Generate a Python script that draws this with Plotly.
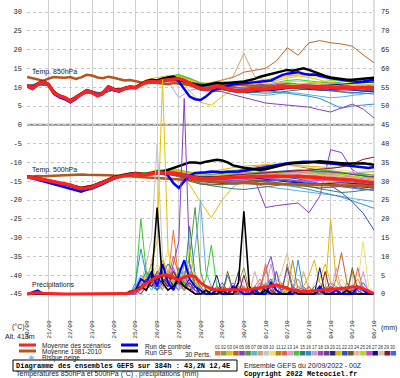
import plotly.graph_objects as go
import pandas as pd

START = pd.Timestamp("2022-09-20 00:00")
T6 = pd.date_range(START, periods=65, freq="6h")
T12 = pd.date_range(START, periods=33, freq="12h")
DAYS = pd.date_range(START, periods=17, freq="D")

# ---------------- 850 hPa (6h) ----------------
MEAN850 = [10.4,9.7,10.8,11.4, 10.6,8.5,7.6,7.2, 6.3,7.2,8.3,9.0, 8.6,7.8,8.4,10.0,
           9.4,9.0,9.6,10.0, 9.8,10.6,11.3,11.5, 11.4,11.8,12.0,12.1, 12.3,11.8,11.0,10.3,
           9.7,9.4,9.8,10.2, 10.0,9.6,9.2,8.9, 9.1,9.3,9.4,9.6, 9.5,9.7,9.9,10.0,
           10.1,10.0,10.2,10.3, 10.1,9.9,10.1,10.2, 10.0,9.9,10.1,10.0, 9.8,9.7,9.9,9.8, 9.6]
CLIM850 = [12.7,12.4,12.0,11.7, 12.3,12.7,12.6,12.5, 12.7,12.2,12.6,13.3, 13.1,12.6,12.4,12.8,
           12.5,12.1,11.8,11.9, 11.6,11.2,11.0,11.3, 11.1,11.0,10.8,11.1, 11.0,10.8,10.6,10.9,
           10.8,10.6,10.5,10.8, 10.7,10.5,10.4,10.7, 10.6,10.4,10.3,10.6, 10.5,10.3,10.2,10.5,
           10.4,10.2,10.1,10.4, 10.3,10.1,10.0,10.3, 10.2,10.0,9.9,10.2, 10.1,9.9,9.8,10.1, 10.0]
CTRL850 = [10.2,9.5,10.6,11.4, 10.4,8.2,7.3,6.8, 6.0,6.9,8.1,9.0, 8.4,7.6,8.2,9.8,
           9.2,8.8,9.5,10.0, 9.9,10.8,11.5,11.8, 11.6,12.1,12.3,12.4, 11.5,9.5,7.5,6.8,
           6.6,7.5,8.8,9.5, 10.0,10.4,10.8,11.0, 11.0,11.2,11.3,11.5, 11.5,11.8,12.5,13.2,
           13.6,13.8,14.0,13.6, 13.3,13.4,13.0,12.6, 12.4,12.2,12.0,11.8, 11.6,11.4,11.5,11.8, 12.0]
GFS850 = [10.5,9.9,11.0,11.6, 10.8,8.7,7.8,7.3, 6.5,7.4,8.5,9.2, 8.8,8.0,8.6,10.2,
          9.6,9.2,9.8,10.2, 10.0,10.9,11.6,12.0, 11.8,12.3,12.6,12.8, 12.0,11.6,11.0,10.6,
          10.4,10.6,11.0,11.2, 11.0,11.2,11.3,11.4, 11.5,11.8,12.2,12.8, 13.2,13.6,14.0,14.4,
          14.6,14.4,14.8,15.0, 14.6,14.0,13.4,13.0, 12.6,12.4,12.2,12.0, 12.0,12.1,12.3,12.4, 12.5]

# ---------------- 500 hPa (6h) ----------------
MEAN500 = [-13.8,-14.0,-14.3,-14.6, -14.9,-15.2,-15.5,-15.8, -16.0,-16.6,-17.0,-16.8, -16.5,-15.9,-15.4,-14.8,
           -14.1,-13.8,-13.4,-13.1, -13.0,-13.2,-13.3,-13.0, -12.7,-12.8,-12.7,-12.8, -13.0,-13.4,-13.8,-14.1,
           -14.3,-14.4,-14.3,-14.2, -14.1,-14.0,-14.0,-13.9, -13.9,-13.8,-13.8,-13.7, -13.8,-13.7,-13.6,-13.7,
           -13.8,-13.7,-13.7,-13.8, -13.8,-13.9,-13.9,-14.0, -14.1,-14.2,-14.4,-14.5, -14.7,-14.9,-15.1,-15.3, -15.4]
CLIM500 = [-13.8,-13.7,-13.6,-13.7, -13.6,-13.5,-13.4,-13.5, -13.4,-13.3,-13.2,-13.3, -13.3,-13.2,-13.3,-13.4,
           -13.5,-13.5,-13.6,-13.7, -13.8,-13.9,-14.0,-14.1, -14.2,-14.3,-14.4,-14.5, -14.6,-14.7,-14.8,-14.9,
           -15.0,-15.1,-15.2,-15.2, -15.3,-15.4,-15.4,-15.5, -15.5,-15.6,-15.6,-15.7, -15.7,-15.7,-15.8,-15.8,
           -15.8,-15.9,-15.9,-15.9, -15.9,-16.0,-16.0,-16.0, -16.0,-16.1,-16.1,-16.1, -16.1,-16.2,-16.2,-16.2, -16.2]
CTRL500 = [-13.9,-14.2,-14.6,-15.0, -15.4,-15.8,-16.2,-16.6, -16.9,-17.4,-17.8,-17.2, -16.6,-16.0,-15.5,-14.9,
           -14.2,-13.8,-13.4,-13.0, -13.0,-13.1,-13.3,-13.0, -12.8,-12.9,-13.5,-15.5, -16.8,-15.0,-13.5,-12.8,
           -12.8,-12.6,-12.4,-12.5, -12.6,-12.5,-12.5,-12.4, -12.2,-12.0,-11.8,-11.5, -11.3,-11.0,-10.8,-10.5,
           -10.2,-10.0,-9.8,-9.8, -9.8,-9.9,-10.0,-10.2, -10.2,-10.4,-10.6,-10.8, -11.0,-11.2,-11.3,-11.5, -11.2]
GFS500 = [-13.7,-13.9,-14.2,-14.5, -14.8,-15.1,-15.4,-15.7, -15.9,-16.4,-16.8,-16.6, -16.3,-15.7,-15.2,-14.6,
          -13.9,-13.6,-13.2,-12.9, -12.8,-13.0,-13.1,-12.8, -12.5,-12.5,-12.0,-11.5, -11.0,-10.3,-10.0,-10.0,
          -10.2,-9.8,-9.5,-9.3, -9.5,-10.0,-10.8,-11.2, -11.4,-11.6,-11.8,-12.0, -11.8,-11.4,-11.0,-10.6,
          -10.4,-10.2,-10.2,-10.0, -10.0,-9.8,-9.7,-9.8, -10.0,-10.0,-10.2,-10.3, -10.4,-10.3,-10.2,-10.4, -10.6]

# ---------------- precipitation (6h, mm) ----------------
PMEAN = [0,0.1,0.3,0.2, 0.1,0,0,0, 0,0,0,0, 0,0,0,0, 0,0,0.1,0.3, 0.8,1.6,2.8,3.7, 4.5,5.0,5.0,4.3,
         3.7,4.5,5.0,4.6, 3.0,2.0,1.4,1.1, 1.1,1.2,1.1,1.0, 1.0,1.2,1.4,1.6, 1.8,2.2,2.4,2.0,
         1.4,1.0,0.8,0.6, 0.7,0.8,0.9,1.0, 1.2,1.3,1.4,1.6, 1.9,1.8,1.4,0.7, 0.1]
PCTRL = [0,0.5,1,0, 0,0,0,0, 0,0,0,0, 0,0,0,0, 0,0,0,0.5, 1,4,3,6, 2,8,3,1, 5,9,4,2,
         1,0,0,1, 0,0,2,1, 0,0,1,0, 0,3,1,0, 0,0,1,0, 0,0,2,0, 0,1,0,0, 0,2,1,0, 0]
PGFS = [0,0,0,0, 0,0,0,0, 0,0,0,0, 0,0,0,0, 0,0,0,0.5, 1,2,1,4, 23,3,1,2, 4,2,1,0,
        0,1,0,0, 1,0,0,3, 22,2,0,0, 1,0,0,0, 0,1,0,0, 0,0,1,0, 0,0,0,1, 0,0,0,0, 0]
P_OFFSET = 18  # members' precipitation lists start at 24/09 12Z (earlier steps are 0 mm)

# ---------------- 30 perturbations: 850 hPa (12h, tenths of degC) ----------------
P850 = [
 [104,110,104,78,62,85,88,83,95,98,101,116,118,124,126,115,104,108,112,110,104,100,97,96,100,106,110,108,104,100,97,95,94],
 [103,107,107,75,64,82,85,85,93,95,97,112,112,118,120,106,92,90,93,88,86,90,94,98,102,104,100,97,95,96,92,90,88],
 [105,109,105,77,61,84,87,86,96,99,103,120,126,131,128,90,60,52,75,95,102,108,112,118,124,130,126,118,112,106,102,100,104],
 [104,108,107,76,64,83,86,84,93,96,99,114,116,122,124,113,104,112,120,126,140,146,150,170,205,185,218,224,218,215,209,186,165],
 [103,108,105,75,63,82,85,85,94,96,97,111,113,119,121,106,92,90,88,80,72,66,58,55,52,49,47,40,34,45,55,42,18],
 [104,109,106,77,64,84,86,83,94,97,99,114,118,126,132,122,110,106,102,96,94,98,104,110,112,108,104,102,106,110,108,104,100],
 [105,108,106,76,62,83,87,85,95,96,98,112,110,114,116,104,94,96,98,90,84,80,78,82,86,84,80,76,72,74,78,82,86],
 [104,108,106,77,64,84,86,84,94,97,100,115,116,122,122,112,104,110,118,128,190,128,118,112,108,104,106,110,114,112,108,104,102],
 [103,107,106,76,63,83,86,84,93,95,98,113,115,121,124,112,100,100,104,98,96,100,102,106,104,100,98,96,98,100,102,98,96],
 [104,108,105,76,63,82,85,84,94,96,99,114,116,123,127,116,106,108,110,106,108,114,120,126,128,132,130,126,118,110,106,108,110],
 [104,109,106,76,63,83,86,84,95,97,98,112,113,118,121,108,96,96,98,94,92,96,98,100,104,106,104,100,98,100,102,104,100],
 [105,109,107,77,64,84,87,85,94,96,98,114,116,122,126,114,100,98,96,88,86,88,90,94,98,100,96,92,90,92,94,96,92],
 [104,108,106,76,63,83,86,84,94,96,98,113,114,119,122,110,98,100,104,100,98,94,92,96,102,108,112,110,106,104,100,98,96],
 [104,108,106,75,62,82,85,84,94,97,100,116,120,128,134,124,112,108,106,100,98,102,108,114,118,120,116,112,110,114,118,116,112],
 [104,108,106,76,63,83,86,84,93,95,97,112,112,117,120,106,94,94,96,90,88,86,84,86,90,94,96,94,90,86,84,88,90],
 [104,108,106,76,64,84,87,85,94,96,98,113,114,120,122,108,96,98,100,94,92,94,92,88,84,80,76,70,58,44,50,52,55],
 [104,108,106,76,63,83,86,84,94,96,98,112,112,116,72,92,96,100,96,94,98,100,104,106,108,104,100,96,98,100,102,98,96],
 [103,109,105,77,60,85,87,83,94,96,98,113,114,121,124,112,100,102,104,98,96,100,104,108,110,106,102,98,96,98,100,96,94],
 [104,108,106,76,63,83,86,84,94,96,98,113,115,121,125,113,101,100,98,92,90,92,94,98,102,104,106,104,102,100,98,100,98],
 [105,107,107,75,58,82,84,86,94,96,98,112,113,119,121,108,95,94,94,88,86,88,92,96,98,96,94,92,92,94,92,90,88],
 [104,109,106,77,64,84,86,84,94,97,99,115,118,126,130,120,110,112,116,112,110,114,118,124,130,134,136,132,126,120,114,112,116],
 [104,108,106,76,63,83,86,84,94,96,98,113,114,120,122,108,96,96,98,92,90,94,96,100,102,104,102,100,98,96,94,92,90],
 [103,107,105,75,62,82,85,84,93,95,97,111,111,116,118,104,92,92,94,88,86,90,94,98,100,98,96,96,98,100,102,104,106],
 [104,108,106,76,64,84,87,85,95,97,99,114,116,123,126,114,102,104,106,102,100,104,108,112,114,116,114,110,106,104,102,104,108],
 [104,108,106,76,63,83,86,84,94,96,98,114,118,126,130,118,104,102,100,94,92,96,100,104,106,108,110,114,118,116,112,108,104],
 [104,108,106,76,63,83,86,84,94,96,98,112,112,117,119,106,94,96,98,94,94,98,100,102,104,102,100,98,96,94,96,98,100],
 [104,107,106,74,66,84,88,83,94,96,98,113,113,118,120,108,98,100,102,96,92,92,90,92,96,100,102,104,106,108,110,112,114],
 [104,108,106,76,63,83,86,84,94,96,98,113,114,120,123,111,99,100,102,96,94,96,98,100,102,104,102,100,98,100,102,100,98],
 [104,108,106,76,63,83,86,84,94,96,98,113,114,120,122,110,98,98,100,94,92,94,96,98,100,100,98,96,94,96,98,100,102],
 [104,108,106,76,63,83,86,84,94,96,98,114,116,122,124,112,100,102,104,100,98,100,102,104,104,102,98,94,90,88,86,84,82],
]

# ---------------- 30 perturbations: 500 hPa (12h, tenths of degC) ----------------
P500 = [
 [-138,-142,-148,-154,-158,-166,-160,-150,-138,-130,-127,-130,-124,-122,-126,-134,-140,-138,-132,-128,-126,-130,-136,-140,-142,-138,-134,-130,-128,-132,-138,-144,-148],
 [-139,-144,-150,-157,-163,-175,-170,-158,-144,-136,-132,-135,-130,-132,-136,-146,-154,-158,-160,-156,-150,-146,-150,-156,-160,-164,-160,-156,-152,-150,-156,-162,-166],
 [-137,-143,-148,-154,-158,-166,-162,-152,-140,-132,-128,-128,-120,-118,-124,-160,-205,-247,-200,-165,-150,-140,-134,-130,-126,-124,-128,-132,-136,-140,-142,-140,-138],
 [-138,-143,-149,-155,-160,-170,-165,-154,-141,-134,-130,-132,-126,-124,-126,-132,-136,-134,-128,-122,-118,-112,-108,-110,-106,-112,-116,-120,-124,-126,-130,-134,-140],
 [-138,-143,-150,-156,-161,-171,-166,-155,-142,-135,-131,-134,-128,-128,-132,-140,-146,-148,-146,-144,-142,-146,-220,-215,-212,-208,-234,-190,-66,-74,-120,-135,-145],
 [-138,-142,-148,-154,-159,-168,-163,-152,-139,-132,-128,-130,-124,-122,-124,-130,-134,-132,-128,-126,-124,-126,-130,-134,-136,-132,-128,-126,-124,-128,-132,-136,-140],
 [-138,-144,-150,-156,-162,-172,-168,-157,-144,-137,-133,-136,-131,-132,-136,-146,-152,-150,-146,-148,-154,-160,-164,-168,-172,-176,-180,-184,-186,-190,-196,-200,-204],
 [-138,-143,-149,-155,-160,-170,-164,-153,-140,-133,-129,-131,-125,-124,-126,-132,-136,-136,-134,-132,-130,-132,-134,-132,-130,-128,-130,-132,-134,-136,-138,-140,-142],
 [-139,-143,-149,-155,-160,-169,-165,-155,-142,-135,-131,-134,-129,-130,-134,-142,-146,-146,-144,-142,-140,-138,-136,-134,-136,-138,-140,-142,-144,-146,-150,-154,-156],
 [-137,-142,-148,-154,-159,-168,-163,-152,-140,-132,-128,-131,-124,-122,-124,-128,-130,-128,-124,-120,-116,-114,-112,-110,-108,-110,-112,-116,-118,-120,-124,-126,-128],
 [-138,-143,-149,-155,-160,-170,-165,-154,-141,-134,-130,-133,-127,-127,-130,-138,-144,-146,-148,-150,-148,-146,-144,-142,-140,-142,-144,-146,-148,-150,-152,-156,-160],
 [-138,-143,-149,-155,-160,-171,-166,-155,-142,-135,-131,-133,-126,-124,-126,-132,-138,-140,-142,-140,-136,-132,-128,-126,-124,-126,-128,-130,-132,-130,-128,-130,-134],
 [-138,-143,-149,-155,-161,-172,-167,-156,-143,-136,-132,-135,-130,-130,-132,-140,-148,-152,-154,-152,-148,-144,-140,-138,-140,-144,-148,-150,-152,-156,-160,-162,-164],
 [-138,-142,-148,-154,-158,-166,-161,-150,-137,-130,-126,-128,-122,-120,-120,-126,-130,-128,-124,-122,-120,-122,-126,-128,-126,-124,-122,-120,-122,-126,-130,-132,-134],
 [-138,-143,-149,-155,-160,-170,-165,-154,-141,-134,-130,-133,-128,-130,-136,-146,-156,-162,-166,-170,-172,-168,-164,-160,-158,-160,-164,-170,-176,-180,-178,-174,-170],
 [-138,-143,-149,-155,-160,-170,-165,-154,-141,-134,-130,-133,-127,-128,-131,-139,-145,-146,-144,-142,-144,-148,-152,-156,-160,-166,-172,-178,-184,-192,-202,-212,-222],
 [-138,-144,-150,-156,-161,-172,-167,-155,-141,-134,-130,-132,-126,-126,-128,-134,-138,-136,-132,-130,-128,-130,-132,-130,-128,-126,-124,-126,-128,-130,-128,-126,-124],
 [-137,-142,-148,-153,-159,-168,-163,-153,-140,-133,-130,-133,-127,-127,-130,-138,-142,-140,-138,-136,-134,-134,-136,-138,-140,-138,-136,-134,-136,-138,-140,-142,-144],
 [-138,-143,-149,-155,-162,-174,-169,-157,-143,-135,-130,-132,-125,-124,-127,-134,-138,-137,-134,-132,-130,-128,-126,-124,-122,-120,-122,-124,-126,-128,-132,-136,-138],
 [-139,-144,-151,-158,-164,-178,-172,-160,-145,-136,-131,-134,-129,-130,-134,-142,-150,-154,-156,-158,-156,-152,-148,-146,-148,-152,-156,-158,-160,-162,-164,-166,-168],
 [-138,-143,-149,-155,-160,-170,-165,-154,-141,-134,-130,-131,-124,-121,-122,-126,-128,-124,-118,-114,-110,-108,-106,-104,-106,-108,-110,-112,-114,-112,-110,-112,-116],
 [-138,-143,-149,-155,-160,-170,-165,-154,-141,-134,-130,-133,-127,-127,-130,-138,-143,-144,-142,-140,-138,-136,-134,-136,-140,-144,-150,-156,-162,-180,-205,-235,-280],
 [-138,-143,-150,-156,-162,-173,-168,-157,-143,-135,-130,-134,-130,-132,-138,-150,-158,-160,-158,-154,-150,-148,-150,-154,-158,-162,-166,-168,-166,-164,-166,-170,-174],
 [-138,-143,-149,-155,-160,-170,-165,-154,-141,-134,-130,-132,-126,-125,-127,-133,-137,-136,-134,-134,-136,-138,-140,-138,-134,-130,-128,-130,-134,-138,-142,-146,-150],
 [-138,-142,-148,-154,-159,-167,-162,-152,-140,-133,-130,-132,-125,-123,-124,-130,-134,-134,-132,-130,-128,-128,-130,-132,-134,-136,-134,-132,-130,-132,-136,-140,-144],
 [-138,-143,-149,-155,-160,-170,-165,-154,-141,-134,-130,-133,-128,-128,-132,-140,-146,-148,-150,-148,-146,-144,-142,-144,-146,-148,-150,-148,-146,-148,-152,-156,-160],
 [-138,-143,-149,-155,-160,-170,-165,-154,-141,-134,-130,-133,-127,-126,-128,-134,-138,-138,-136,-136,-138,-142,-146,-150,-152,-154,-156,-158,-156,-154,-156,-158,-160],
 [-138,-143,-149,-155,-160,-170,-165,-154,-141,-134,-130,-133,-127,-127,-130,-137,-141,-140,-138,-136,-134,-134,-134,-132,-130,-130,-132,-134,-136,-138,-140,-142,-146],
 [-138,-143,-149,-155,-160,-170,-165,-154,-141,-134,-130,-133,-127,-127,-130,-138,-142,-140,-136,-134,-132,-130,-128,-126,-124,-122,-120,-118,-116,-112,-104,-92,-86],
 [-138,-143,-149,-155,-160,-170,-165,-154,-141,-134,-130,-133,-127,-127,-130,-138,-143,-144,-146,-148,-150,-152,-150,-148,-146,-150,-154,-158,-162,-166,-170,-172,-174],
]

# ---------------- 30 perturbations: precipitation (6h from 24/09 12Z, mm) ----------------
PPREC = [
 [0,0,1,3,6,2,5,9,4,17,3,6,2,1,0,2,1,0,0,1,3,1,0,0,2,4,1,0,0,3,1,0,0,1,2,0,0,1,3,2,1,0,2,4,1,0,0],
 [0,0,0,2,4,8,3,1,6,2,4,1,8,3,1,0,0,2,1,0,0,3,7,1,0,0,1,2,0,0,8,2,0,0,0,1,0,2,1,0,0,3,1,0,0,1,0],
 [0,0,1,4,2,9,14,57,12,3,2,5,1,0,0,1,2,0,0,0,1,0,0,2,1,0,0,3,6,2,0,0,1,0,0,2,4,8,3,1,0,0,1,0,0,0,0],
 [0,1,0,2,5,3,1,4,2,6,3,2,1,4,2,0,0,1,0,0,2,1,0,0,1,3,2,0,0,1,0,0,2,1,0,0,0,1,0,4,11,3,0,1,0,0,0],
 [0,0,0,1,3,2,6,4,3,8,14,52,8,2,1,0,0,1,3,1,0,0,1,0,0,2,6,10,3,1,0,0,1,2,0,0,1,0,0,2,1,0,0,1,3,1,0],
 [0,0,0,3,6,4,2,5,3,2,7,4,10,23,6,1,0,2,1,0,0,1,2,0,0,0,3,1,0,1,2,0,0,0,1,0,0,2,1,0,0,0,1,2,0,0,0],
 [0,0,2,5,3,1,4,2,6,3,1,8,4,12,25,6,2,0,1,0,0,2,1,0,0,1,0,3,1,0,0,2,4,1,0,0,0,1,3,1,0,0,2,1,0,0,0],
 [0,0,0,1,2,4,3,6,2,5,3,1,2,0,1,0,0,0,2,1,0,0,1,0,0,0,7,0,0,1,0,0,0,6,1,0,0,0,1,0,0,2,1,0,0,0,0],
 [0,0,1,3,8,15,40,10,4,2,6,3,1,0,0,0,1,0,0,1,0,0,2,1,0,0,1,0,0,2,1,0,0,0,1,0,0,0,2,1,0,0,0,1,0,0,0],
 [0,0,0,2,5,3,8,6,12,4,2,1,3,1,0,0,2,1,0,0,1,0,0,3,1,0,0,0,2,1,0,0,1,0,0,3,1,0,0,2,4,2,1,3,14,2,0],
 [0,0,1,2,1,4,2,3,5,2,1,3,2,1,0,1,0,0,0,1,2,0,0,0,1,0,0,2,0,0,1,9,1,0,0,0,1,0,0,1,0,0,6,1,0,0,0],
 [0,0,0,1,3,6,2,8,4,10,5,2,1,3,1,0,0,1,0,0,0,2,1,0,0,1,8,1,0,0,0,1,0,0,2,0,0,1,0,0,1,0,0,7,1,0,0],
 [0,0,0,0,2,3,5,2,1,4,2,6,3,1,0,0,0,1,0,0,0,1,0,0,6,1,0,0,1,0,0,2,0,0,0,1,0,0,0,7,1,0,0,0,1,0,0],
 [0,0,2,20,6,3,1,2,4,1,3,2,6,2,1,4,13,2,0,0,0,1,0,0,0,2,1,0,0,0,1,0,0,1,0,0,0,0,1,0,0,0,1,0,0,0,0],
 [0,0,1,2,4,3,2,5,8,6,4,3,18,5,1,0,0,1,2,0,0,0,1,0,0,0,2,4,1,0,0,1,0,0,0,2,1,0,0,0,1,0,0,0,2,0,0],
 [0,0,3,12,5,2,1,4,2,3,1,5,2,1,0,0,1,0,0,5,1,0,0,0,1,2,0,0,0,1,0,0,9,1,0,0,0,1,0,0,0,2,1,0,0,0,0],
 [0,0,0,1,3,2,4,3,6,2,1,4,2,1,0,0,0,1,0,0,0,0,1,0,0,0,1,8,1,0,0,0,1,0,0,0,2,1,0,0,0,1,0,0,6,0,0],
 [0,0,0,2,1,3,6,4,2,7,3,1,2,0,1,0,0,0,1,0,0,0,2,1,0,0,0,1,0,0,0,2,1,0,0,0,1,0,0,0,2,1,0,0,0,0,0],
 [0,0,1,0,2,4,3,2,5,3,6,9,4,2,0,0,1,0,0,0,1,6,0,0,2,1,0,0,0,1,7,1,0,0,0,1,0,0,0,0,1,0,0,0,0,1,0],
 [0,0,0,1,3,5,2,4,3,2,4,3,1,2,0,0,0,1,0,0,0,1,0,0,0,2,1,0,0,0,1,0,0,0,1,0,0,0,2,1,0,0,0,1,0,0,0],
 [0,0,0,2,4,3,5,9,6,3,2,4,1,0,0,0,1,0,0,0,2,1,0,0,0,0,1,0,0,0,1,0,0,2,5,9,3,1,20,4,1,0,0,1,0,0,0],
 [0,0,1,3,2,4,1,3,2,5,2,1,3,1,0,0,0,0,1,0,0,0,1,0,0,0,1,0,0,1,2,0,0,0,1,0,0,0,1,0,0,0,1,0,0,0,0],
 [0,0,0,1,3,2,4,6,3,2,5,2,1,0,0,1,0,0,0,6,1,0,0,0,1,0,0,0,2,1,0,0,0,1,0,0,0,0,1,0,0,0,7,1,0,0,0],
 [0,0,0,2,4,3,2,5,3,4,2,3,2,1,0,0,0,1,0,0,0,0,2,1,0,0,0,1,3,6,11,4,1,0,0,0,1,0,0,0,0,1,0,0,0,0,0],
 [0,0,1,3,5,4,2,6,3,4,6,2,12,4,1,0,2,1,0,0,0,1,0,0,0,1,0,0,0,2,0,0,0,1,0,0,0,0,1,0,0,0,1,0,0,0,0],
 [0,0,0,1,2,3,2,4,2,3,2,5,2,1,0,0,0,0,1,0,0,0,0,1,0,0,0,0,1,0,0,0,0,1,0,0,0,0,1,0,0,0,0,1,0,0,0],
 [0,0,0,2,3,2,4,3,5,2,3,2,4,2,0,0,1,5,0,0,0,1,0,0,0,0,2,0,0,0,0,1,0,0,0,0,7,0,0,0,0,1,0,0,0,0,0],
 [0,0,0,1,2,4,3,2,4,3,2,1,2,1,0,0,0,0,1,0,0,0,0,0,1,0,0,0,0,1,0,0,0,0,1,0,0,0,0,1,0,0,0,0,1,0,0],
 [0,0,1,2,4,3,5,4,2,6,3,2,3,1,0,0,0,1,0,0,0,0,5,0,0,0,0,1,0,0,0,0,1,0,0,0,0,6,0,0,0,0,1,0,0,0,0],
 [0,0,0,2,3,5,3,4,3,2,5,3,2,1,0,0,0,0,1,0,0,0,0,1,0,0,0,0,6,0,0,0,0,1,0,0,0,0,1,0,0,0,0,1,0,0,0],
]

PERT_COLORS = ["#e0783a", "#8c9a3c", "#e6c000", "#c0642a", "#8a3cc8", "#4f9a3a", "#5aaee8", "#d2a36c",
               "#c4c4c4", "#f0e070", "#b8860b", "#f05a4a", "#e89ac0", "#33cc33", "#2f7f7f", "#2a90d0",
               "#c79be0", "#b040b0", "#6a3d9a", "#2a2a7a", "#e0b800", "#3050c0", "#6b5a2a", "#f0b890",
               "#a8e000", "#d040d0", "#101080", "#d8c8a0", "#8b1a1a", "#4060ff"]
PERT_LABELS = [f"{k:02d}" for k in range(1, 31)]
Y_TICKS_L = list(range(-45, 31, 5))
Y_TICKS_R = list(range(0, 76, 5))

# ---------------- geometry ----------------
W, H = 400, 378
ML, MR, MT, MB = 27, 26, 0, 56
PW, PH = W - ML - MR, H - MT - MB
PXU = 3.76                      # pixels per degC / mm
Y_TOP = 30 + 12 / PXU
Y_BOT = -45 - (PH - 294) / PXU
PREC_SHIFT = 45                 # right axis = left axis + 45


def px(x):
    return (x - ML) / PW


def py(y):
    return 1 - (y - MT) / PH


fig = go.Figure()


def line(x, y, color, width, axis="y"):
    fig.add_trace(go.Scatter(x=list(x[:len(y)]), y=y, mode="lines", yaxis=axis,
                             line=dict(color=color, width=width), hoverinfo="skip",
                             showlegend=False))


for k in range(30):
    line(T12, [v / 10 for v in P850[k]], PERT_COLORS[k], 1)
    line(T12, [v / 10 for v in P500[k]], PERT_COLORS[k], 1)
for k in range(30):
    line(T6, [0] * P_OFFSET + PPREC[k], PERT_COLORS[k], 1, "y2")

for clim, ctrl, gfs, mean in ((CLIM850, CTRL850, GFS850, MEAN850), (CLIM500, CTRL500, GFS500, MEAN500)):
    line(T6, clim, "#b4561a", 2.5)
    line(T6, ctrl, "#0000ff", 2.5)
    line(T6, gfs, "#000000", 2.5)
    line(T6, mean, "#ff2020", 3.5)
line(T6, PCTRL, "#0000ff", 2, "y2")
line(T6, PGFS, "#000000", 1.6, "y2")
line(T6, PMEAN, "#ff2020", 3, "y2")

TICKFONT = dict(family="Liberation Mono", size=7, color="#222")
fig.update_layout(
    width=W, height=H, margin=dict(l=ML, r=MR, t=MT, b=MB, autoexpand=False),
    paper_bgcolor="white", plot_bgcolor="white", showlegend=False, hovermode=False,
    xaxis=dict(range=[DAYS[0], DAYS[-1]], tickvals=list(DAYS), tickformat="%d/%m", tickangle=-90,
               showgrid=True, gridcolor="#cfcfcf", gridwidth=1, zeroline=False, showline=False,
               ticks="", ticklabelstandoff=-4,
               tickfont=dict(family="Liberation Mono", size=6.2, color="#222")),
    yaxis=dict(range=[Y_BOT, Y_TOP], tickvals=Y_TICKS_L, ticktext=[str(v) for v in Y_TICKS_L],
               showgrid=True, gridcolor="#c8c8c8", griddash="dot", gridwidth=1, zeroline=False,
               showline=False, ticks="", tickfont=TICKFONT, ticklabelstandoff=4),
    yaxis2=dict(range=[Y_BOT + PREC_SHIFT, Y_TOP + PREC_SHIFT], overlaying="y", side="right",
                tickvals=Y_TICKS_R, ticktext=[str(v) for v in Y_TICKS_R], showgrid=False,
                zeroline=False, showline=False, ticks="", tickfont=TICKFONT, ticklabelstandoff=6),
)

shapes = [
    dict(type="line", xref="paper", yref="y", x0=0, x1=1, y0=0, y1=0,
         line=dict(color="#8c8c8c", width=2), layer="below"),
    dict(type="line", xref="paper", yref="paper", x0=1, x1=1, y0=0, y1=1,
         line=dict(color="#bdbdbd", width=1), layer="below"),
    # legend samples
    dict(type="line", xref="paper", yref="paper", x0=px(19), x1=px(36), y0=py(345), y1=py(345),
         line=dict(color="#ff2020", width=3)),
    dict(type="line", xref="paper", yref="paper", x0=px(19), x1=px(36), y0=py(351), y1=py(351),
         line=dict(color="#b4561a", width=3)),
    dict(type="line", xref="paper", yref="paper", x0=px(121), x1=px(138), y0=py(345), y1=py(345),
         line=dict(color="#0000ff", width=3)),
    dict(type="line", xref="paper", yref="paper", x0=px(121), x1=px(138), y0=py(351), y1=py(351),
         line=dict(color="#000000", width=3)),
    # title box
    dict(type="rect", xref="paper", yref="paper", x0=px(13), x1=px(237), y0=py(371), y1=py(360),
         line=dict(color="#000000", width=1), fillcolor="white"),
]
for k, c in enumerate(PERT_COLORS):
    x0 = 215 + k * 6.05
    shapes.append(dict(type="rect", xref="paper", yref="paper", x0=px(x0), x1=px(x0 + 5.6),
                       y0=py(355.5), y1=py(351), line=dict(width=0), fillcolor=c))
fig.update_layout(shapes=shapes)

SMALL = dict(family="Liberation Sans", size=7, color="#222")
LEG = dict(family="Liberation Sans", size=6.5, color="#222")


def note(x, y, text, font=SMALL, anchor="left"):
    fig.add_annotation(x=px(x), y=py(y), xref="paper", yref="paper", text=text, showarrow=False,
                       xanchor=anchor, yanchor="middle", font=font, borderpad=0)


note(31, 72, "Temp. 850hPa")
note(31, 170, "Temp. 500hPa")
note(31, 285, "Précipitations")
note(11, 327, "(°C)")
note(4, 336, "Alt. 413m")
note(380, 328, "(mm)")
note(41, 346, "Moyenne des scénarios", font=LEG)
note(41, 352, "Moyenne 1981-2010", font=LEG)
note(41, 358, "Risque neige", font=LEG)
note(31, 358, "❄", font=dict(family="DejaVu Sans", size=8, color="#40a0e0"), anchor="center")
note(144, 346, "Run de controle", font=LEG)
note(144, 352, "Run GFS", font=LEG)
note(184, 354, "30 Perts.", font=LEG)
for k, lab in enumerate(PERT_LABELS):
    note(215 + k * 6.05 + 2.8, 347, lab, font=dict(family="Liberation Sans", size=4.5, color="#333"),
         anchor="center")
note(15, 365.5, "<b>Diagramme des ensembles GEFS sur 384h : 43,2N 12,4E</b>",
     font=dict(family="Liberation Mono", size=7, color="#000"))
note(15, 374, "Températures 850hPa et 500hPa (°C) , précipitations (mm)")
note(243, 365, "Ensemble GEFS du 20/09/2022 - 00Z")
note(243, 374, "<b>Copyright 2022 Meteociel.fr</b>", font=dict(family="Liberation Mono", size=7, color="#000"))

fig.write_html("out.html", config={"displayModeBar": False},
               post_script="document.body.style.margin='0px';document.body.style.overflow='hidden';")
